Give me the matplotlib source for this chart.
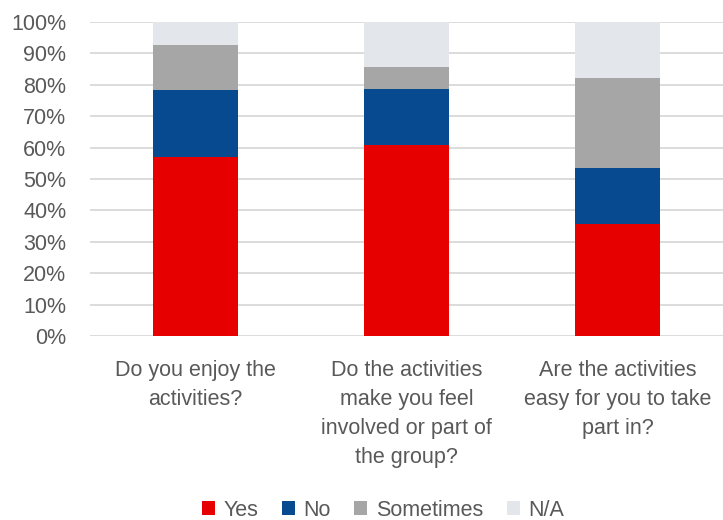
import matplotlib.pyplot as plt
import numpy as np

categories = [
    "Do you enjoy the\nactivities?",
    "Do the activities\nmake you feel\ninvolved or part of\nthe group?",
    "Are the activities\neasy for you to take\npart in?",
]
series_names = ["Yes", "No", "Sometimes", "N/A"]
yes = [57.1, 60.7, 35.7]
no = [21.4, 17.9, 17.9]
sometimes = [14.3, 7.1, 28.6]
na = [7.2, 14.3, 17.8]
colors = ["#E60000", "#074A8F", "#A6A6A6", "#E3E7EB"]

text_color = "#595959"
fs = 15.5
plt.rcParams["font.family"] = ["Liberation Sans", "DejaVu Sans"]

fig = plt.figure(figsize=(7.23, 5.2), dpi=100)
ax = fig.add_axes([90 / 723, 1 - 336 / 520, 633 / 723, 314 / 520])

x = np.arange(len(categories))
bottom = np.zeros(len(categories))
for name, vals, c in zip(series_names, [yes, no, sometimes, na], colors):
    ax.bar(x, vals, 0.4, bottom=bottom, color=c, label=name, zorder=3)
    bottom += np.array(vals)

ax.set_xlim(-0.5, 2.5)
ax.set_ylim(0, 100)
ax.set_yticks(np.arange(0, 101, 10))
ax.set_yticklabels([f"{v}%" for v in range(0, 101, 10)])
ax.grid(axis="y", color="#D9D9D9", linewidth=1.3, zorder=0)
for s in ax.spines.values():
    s.set_visible(False)
ax.tick_params(axis="y", length=0, pad=17, labelsize=fs, labelcolor=text_color)
ax.set_xticks(x)
ax.set_xticklabels(categories, fontsize=fs, color=text_color, linespacing=1.5, va="top")
ax.tick_params(axis="x", length=0, pad=17)

ax.legend(loc="center", bbox_to_anchor=(0.463, -0.555), ncol=4, frameon=False,
          fontsize=fs, labelcolor=text_color, handlelength=0.6, handleheight=0.6,
          handletextpad=0.4, columnspacing=1.1)

fig.savefig("out.png", dpi=100)
